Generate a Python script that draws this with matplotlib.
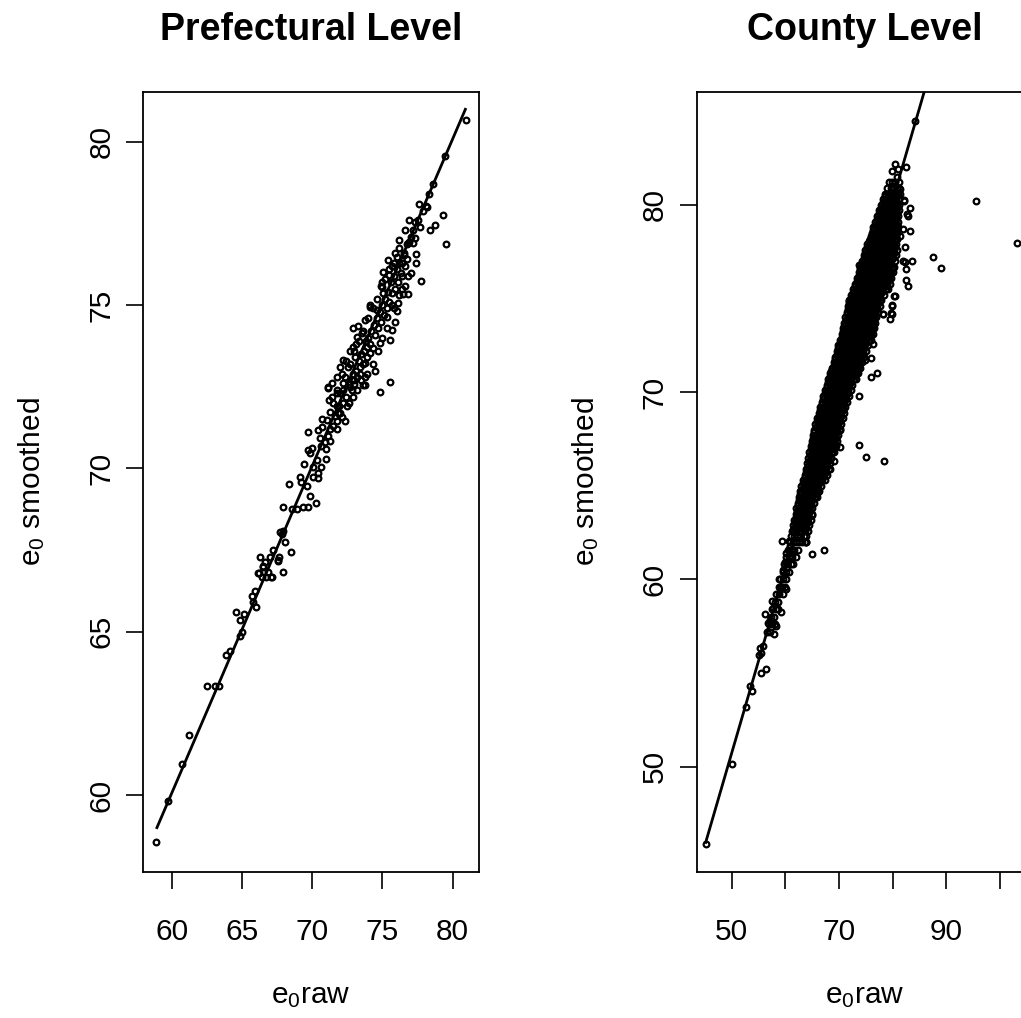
import matplotlib
matplotlib.use("Agg")
import matplotlib.pyplot as plt

plt.rcParams['font.family'] = ['Liberation Sans', 'DejaVu Sans']
plt.rcParams['mathtext.fontset'] = 'custom'
plt.rcParams['mathtext.rm'] = 'Liberation Sans'
plt.rcParams['mathtext.it'] = 'Liberation Sans:italic'

# ---------------- Prefectural level (raw, smoothed) ----------------
pref_points = [
    (58.88, 58.56), (59.74, 59.83), (60.71, 60.95), (61.25, 61.85), (62.49, 63.34),
    (63.08, 63.34), (63.37, 63.34), (63.87, 64.29), (64.15, 64.42), (64.86, 64.87),
    (65.03, 65.0), (64.58, 65.6), (64.86, 65.36), (65.17, 65.55), (65.7, 66.08),
    (65.95, 66.26), (66.0, 65.77), (65.81, 65.92), (66.22, 66.8), (66.52, 67.02),
    (66.72, 66.69), (67.05, 66.67), (67.9, 66.84), (67.59, 67.17), (68.5, 67.44),
    (68.07, 67.74), (67.83, 68.0), (67.71, 68.05), (67.95, 68.07), (67.24, 67.5),
    (67.0, 67.3), (67.66, 67.3), (67.59, 67.2), (66.29, 67.3), (66.65, 67.15),
    (66.53, 66.99), (66.17, 66.79), (66.88, 66.84), (67.12, 66.69), (66.41, 66.69),
    (67.95, 68.83), (68.55, 68.75), (68.9, 68.75), (69.37, 68.83), (69.73, 68.83),
    (70.28, 68.94), (68.33, 69.53), (69.14, 69.73), (69.19, 69.6), (69.66, 69.47),
    (69.85, 69.17), (69.42, 70.14), (70.08, 69.75), (70.44, 69.7), (70.44, 69.86),
    (70.08, 70.04), (70.33, 70.26), (70.61, 70.06), (70.99, 70.3), (69.85, 70.47),
    (69.73, 70.57), (69.97, 70.62), (69.73, 71.13), (70.44, 71.18), (70.56, 70.93),
    (71.27, 70.85), (70.68, 71.28), (71.04, 71.49), (70.68, 71.51), (71.8, 71.2),
    (71.75, 71.44), (72.11, 71.59), (72.34, 71.44), (71.27, 71.74), (71.87, 71.69),
    (71.2, 72.1), (71.51, 72.0), (71.75, 71.9), (71.15, 72.46), (71.4, 72.61),
    (71.75, 72.31), (72.22, 72.41), (72.7, 72.51), (73.18, 72.41), (73.77, 72.56),
    (74.84, 72.33), (75.55, 72.66),
    (80.96, 80.68), (79.42, 79.56), (78.59, 78.72), (78.11, 78.05), (78.2, 78.02),
    (79.3, 77.76), (78.75, 77.46), (78.35, 77.31), (79.54, 76.87), (77.33, 77.55),
    (76.92, 76.95), (77.16, 76.9), (77.33, 77.06), (76.74, 76.88), (77.38, 76.57),
    (76.21, 76.75), (76.03, 76.49), (76.5, 76.54), (76.38, 76.29), (75.79, 76.29),
    (76.74, 76.41), (75.07, 76.03), (75.43, 75.93), (75.67, 76.19), (76.38, 75.88),
    (76.85, 75.88), (77.73, 75.75), (76.38, 75.49), (76.45, 75.35), (76.81, 75.34),
    (74.96, 75.57), (75.07, 75.37), (75.67, 75.37), (76.14, 75.06), (74.12, 74.96),
    (74.6, 74.86), (76.03, 74.81), (75.31, 74.65), (75.9, 74.5), (75.67, 74.25),
    (75.55, 73.94), (74.84, 73.84), (72.89, 74.3), (73.29, 74.35), (73.77, 74.55),
    (73.18, 74.04), (73.53, 74.14), (72.89, 73.71), (73.89, 73.73), (74.12, 73.53),
    (73.77, 73.22), (73.41, 73.12), (73.06, 73.42), (72.22, 73.32), (71.99, 73.12),
    (72.58, 73.12), (73.77, 72.81), (73.65, 72.56), (72.94, 72.71), (72.22, 72.61),
    (71.75, 72.81), (71.15, 72.51), (71.4, 72.2), (71.99, 72.31), (72.82, 72.41),
    (70.6, 70.7), (70.9, 70.8), (71.1, 71.0), (71.3, 71.2), (71.0, 70.6),
    (71.5, 71.3), (71.6, 71.6), (71.9, 71.9), (72.0, 71.7), (72.2, 72.0),
    (72.4, 72.2), (72.5, 71.9), (72.6, 72.6), (72.8, 72.7), (72.9, 72.9),
    (73.0, 72.6), (73.1, 73.0), (73.2, 72.8), (73.3, 73.3), (73.4, 72.9),
    (73.5, 73.5), (73.6, 73.2), (73.7, 73.6), (73.8, 73.9), (73.9, 73.4),
    (74.0, 74.0), (74.1, 73.8), (74.2, 74.2), (74.3, 73.7), (74.4, 74.4),
    (74.5, 74.1), (74.6, 74.6), (74.7, 74.3), (74.8, 74.8), (74.9, 74.5),
    (75.0, 75.0), (75.1, 74.7), (75.2, 75.2), (75.3, 74.9), (75.4, 75.4),
    (75.5, 75.1), (75.6, 75.7), (75.7, 75.0), (75.8, 75.9), (75.9, 75.5),
    (76.0, 76.1), (76.1, 75.7), (76.2, 76.3), (76.3, 76.0), (76.5, 76.6),
    (76.6, 76.2), (76.8, 76.9), (77.0, 77.1), (77.2, 77.3), (77.5, 77.6),
    (77.7, 77.4), (77.9, 77.9), (78.3, 78.4),
    (72.3, 72.8), (72.7, 73.2), (73.0, 73.6), (73.3, 73.9), (73.6, 74.2),
    (74.0, 74.6), (74.3, 74.9), (74.6, 75.2), (74.9, 75.6), (75.2, 75.8),
    (75.5, 76.1), (75.9, 76.6), (76.2, 77.0), (76.6, 77.3),
    (73.9, 72.9), (74.3, 73.2), (74.7, 73.6), (75.0, 74.0), (75.3, 74.3),
    (75.8, 74.9), (76.2, 75.3), (76.6, 75.6), (77.0, 76.0), (77.4, 76.3),
    (74.5, 73.0), (72.6, 72.0), (72.9, 72.2), (73.5, 72.7),
    (71.8, 72.4), (72.1, 72.9), (72.4, 73.3), (72.7, 73.6), (73.1, 73.8),
    (74.1, 75.0), (75.0, 75.7), (75.4, 76.4), (76.9, 77.6), (77.6, 78.1),
]
pref_fit_raw = [58.95, 80.9]
pref_fit_smooth = [59.0, 81.0]

# ---------------- County level (raw, smoothed) ----------------
county_sparse = [
    (45.28, 45.9), (50.06, 50.14), (52.61, 53.17), (53.36, 54.34), (53.79, 54.02),
    (55.1, 55.97), (55.54, 55.0), (56.34, 55.23), (55.35, 56.33), (55.84, 56.45),
    (55.54, 56.06), (56.16, 58.14), (57.59, 58.87), (57.71, 58.46), (59.14, 58.28),
    (56.77, 57.66), (57.41, 57.48), (58.21, 57.52), (57.84, 57.09), (57.09, 57.84),
    (58.77, 60.0), (59.09, 59.56), (60.07, 59.49), (59.57, 60.5), (60.32, 60.68),
    (60.02, 60.94), (60.2, 61.39), (60.82, 61.74), (59.46, 62.06), (60.69, 62.06),
    (63.81, 62.01), (65.06, 61.35), (67.16, 61.56), (61.44, 62.63), (62.07, 62.98),
    (60.95, 61.78),
    (70.15, 67.07), (69.03, 66.32), (68.28, 65.92), (70.15, 68.05), (66.1, 64.67),
    (65.06, 63.43), (63.94, 62.01), (73.69, 67.2), (75.12, 66.54), (78.36, 66.32),
    (76.36, 72.58), (75.88, 71.83), (74.81, 71.72), (77.0, 71.01), (75.88, 70.8),
    (73.69, 69.77), (79.79, 74.62), (79.79, 74.18), (79.48, 73.91), (78.23, 74.18),
    (95.46, 80.23), (103.1, 77.94), (87.44, 77.23), (88.93, 76.61), (82.46, 82.02),
    (83.21, 79.82), (83.21, 78.58), (83.53, 77.02), (82.09, 80.21), (82.89, 79.41),
    (82.59, 79.5), (81.96, 78.71), (82.28, 77.73), (82.46, 76.57), (82.46, 75.99),
    (82.78, 75.68), (80.28, 75.15), (81.34, 78.35), (81.96, 77.02), (84.14, 84.48),
    (80.84, 81.49), (81.34, 80.84), (79.79, 80.96), (79.16, 80.34), (79.98, 80.57),
    (82.09, 80.25), (77.93, 79.72), (78.86, 79.86), (82.34, 76.93), (80.41, 75.15),
    (79.79, 74.67), (79.6, 74.21), (78.11, 74.18), (76.06, 77.67), (73.77, 76.8),
    (71.9, 74.85), (76.42, 78.44), (76.49, 78.26), (79.9, 81.8), (80.5, 82.2),
    (81.0, 81.9),
]

# dense core: smoothed value of each band, and raw values in that band
county_core_smooth = [
    57.2, 57.6, 58.0, 58.4, 58.8, 59.2, 59.6, 60.0, 60.4, 60.8, 61.2, 61.6,
    62.0, 62.3, 62.6, 62.9, 63.2, 63.5, 63.8, 64.1, 64.4, 64.7, 65.0, 65.3,
    65.6, 65.9, 66.2, 66.5, 66.8, 67.1, 67.4, 67.7, 68.0, 68.3, 68.6, 68.9,
    69.2, 69.5, 69.8, 70.1, 70.4, 70.7, 71.0, 71.3, 71.6, 71.9, 72.2, 72.5,
    72.8, 73.1, 73.4, 73.7, 74.0, 74.3, 74.6, 74.9, 75.2, 75.5, 75.8, 76.1,
    76.4, 76.7, 77.0, 77.3, 77.6, 77.9, 78.2, 78.5, 78.8, 79.1, 79.4, 79.7,
    80.0, 80.3, 80.6, 80.9, 81.2,
]
county_core_raw = [
    [56.6, 57.2], [56.9, 57.5, 58.0], [57.3, 57.9], [57.6, 58.2, 58.7],
    [58.0, 58.6], [58.3, 58.9, 59.5], [58.8, 59.4, 59.9], [59.0, 59.6, 60.2],
    [59.5, 60.1, 60.6], [59.8, 60.4, 61.0, 61.5], [60.1, 60.7, 61.3, 61.9],
    [60.5, 61.1, 61.7, 62.3],
    [60.8, 61.4, 62.0, 62.6, 63.1, 63.6],
    [61.0, 61.6, 62.2, 62.8, 63.4, 63.9],
    [61.3, 61.9, 62.5, 63.0, 63.6, 64.2],
    [61.5, 62.1, 62.7, 63.3, 63.9, 64.4],
    [61.7, 62.3, 62.9, 63.5, 64.1, 64.7],
    [61.9, 62.5, 63.1, 63.7, 64.3, 64.9],
    [62.0, 62.6, 63.2, 63.8, 64.4, 65.0],
    [62.3, 62.9, 63.5, 64.1, 64.7, 65.3],
    [62.5, 63.1, 63.7, 64.3, 64.9, 65.5, 65.9],
    [62.8, 63.4, 64.0, 64.6, 65.2, 65.8, 66.3],
    [63.0, 63.6, 64.2, 64.8, 65.4, 66.0, 66.7],
    [63.3, 63.9, 64.5, 65.1, 65.7, 66.3, 66.9, 67.3],
    [63.6, 64.2, 64.8, 65.4, 66.0, 66.6, 67.2, 67.7],
    [63.9, 64.5, 65.1, 65.7, 66.3, 66.9, 67.5, 68.1],
    [64.1, 64.7, 65.3, 65.9, 66.5, 67.1, 67.7, 68.4],
    [64.3, 64.9, 65.5, 66.1, 66.7, 67.3, 67.9, 68.6],
    [64.5, 65.1, 65.7, 66.3, 66.9, 67.5, 68.1, 68.7, 69.1],
    [64.7, 65.3, 65.9, 66.5, 67.1, 67.7, 68.3, 68.9, 69.4],
    [64.9, 65.5, 66.1, 66.7, 67.3, 67.9, 68.5, 69.1, 69.7],
    [65.1, 65.7, 66.3, 66.9, 67.5, 68.1, 68.7, 69.3, 69.9],
    [65.4, 66.0, 66.6, 67.2, 67.8, 68.4, 69.0, 69.6, 70.2],
    [65.6, 66.2, 66.8, 67.4, 68.0, 68.6, 69.2, 69.8, 70.4],
    [65.9, 66.5, 67.1, 67.7, 68.3, 68.9, 69.5, 70.1, 70.7],
    [66.2, 66.8, 67.4, 68.0, 68.6, 69.2, 69.8, 70.4, 70.9],
    [66.5, 67.1, 67.7, 68.3, 68.9, 69.5, 70.1, 70.7, 71.2],
    [66.8, 67.4, 68.0, 68.6, 69.2, 69.8, 70.4, 71.0, 71.5],
    [67.1, 67.7, 68.3, 68.9, 69.5, 70.1, 70.7, 71.3, 71.8],
    [67.4, 68.0, 68.6, 69.2, 69.8, 70.4, 71.0, 71.6, 72.2],
    [67.7, 68.3, 68.9, 69.5, 70.1, 70.7, 71.3, 71.9, 72.5],
    [68.0, 68.6, 69.2, 69.8, 70.4, 71.0, 71.6, 72.2, 72.8, 73.1],
    [68.3, 68.9, 69.5, 70.1, 70.7, 71.3, 71.9, 72.5, 73.1, 73.5],
    [68.7, 69.3, 69.9, 70.5, 71.1, 71.7, 72.3, 72.9, 73.5, 73.9],
    [69.0, 69.6, 70.2, 70.8, 71.4, 72.0, 72.6, 73.2, 73.8, 74.3],
    [69.3, 69.9, 70.5, 71.1, 71.7, 72.3, 72.9, 73.5, 74.1, 74.7],
    [69.6, 70.2, 70.8, 71.4, 72.0, 72.6, 73.2, 73.8, 74.4, 75.1],
    [69.9, 70.5, 71.1, 71.7, 72.3, 72.9, 73.5, 74.1, 74.7, 75.4],
    [70.2, 70.8, 71.4, 72.0, 72.6, 73.2, 73.8, 74.4, 75.0, 75.6, 76.0],
    [70.5, 71.1, 71.7, 72.3, 72.9, 73.5, 74.1, 74.7, 75.3, 75.9, 76.3],
    [70.7, 71.3, 71.9, 72.5, 73.1, 73.7, 74.3, 74.9, 75.5, 76.1, 76.5],
    [71.0, 71.6, 72.2, 72.8, 73.4, 74.0, 74.6, 75.2, 75.8, 76.4, 76.7],
    [71.2, 71.8, 72.4, 73.0, 73.6, 74.2, 74.8, 75.4, 76.0, 76.5, 76.9],
    [71.4, 72.0, 72.6, 73.2, 73.8, 74.4, 75.0, 75.6, 76.2, 76.8, 77.3],
    [71.6, 72.2, 72.8, 73.4, 74.0, 74.6, 75.2, 75.8, 76.4, 77.0, 77.6],
    [71.9, 72.5, 73.1, 73.7, 74.3, 74.9, 75.5, 76.1, 76.7, 77.3, 77.9],
    [72.3, 72.9, 73.5, 74.1, 74.7, 75.3, 75.9, 76.5, 77.1, 77.7, 78.3],
    [72.7, 73.3, 73.9, 74.5, 75.1, 75.7, 76.3, 76.9, 77.5, 78.1, 78.7, 79.1],
    [73.0, 73.6, 74.2, 74.8, 75.4, 76.0, 76.6, 77.2, 77.8, 78.4, 79.0, 79.5],
    [73.4, 74.0, 74.6, 75.2, 75.8, 76.4, 77.0, 77.6, 78.2, 78.8, 79.4, 79.7],
    [73.7, 74.3, 74.9, 75.5, 76.1, 76.7, 77.3, 77.9, 78.5, 79.1, 79.7, 80.0],
    [74.0, 74.6, 75.2, 75.8, 76.4, 77.0, 77.6, 78.2, 78.8, 79.4, 80.0, 80.2],
    [74.3, 74.9, 75.5, 76.1, 76.7, 77.3, 77.9, 78.5, 79.1, 79.7, 80.4],
    [74.6, 75.2, 75.8, 76.4, 77.0, 77.6, 78.2, 78.8, 79.4, 80.0, 80.6],
    [74.9, 75.5, 76.1, 76.7, 77.3, 77.9, 78.5, 79.1, 79.7, 80.3, 80.8],
    [75.3, 75.9, 76.5, 77.1, 77.7, 78.3, 78.9, 79.5, 80.1, 80.7],
    [75.7, 76.3, 76.9, 77.5, 78.1, 78.7, 79.3, 79.9, 80.5, 80.9],
    [76.1, 76.7, 77.3, 77.9, 78.5, 79.1, 79.7, 80.3, 80.9],
    [76.4, 77.0, 77.6, 78.2, 78.8, 79.4, 80.0, 80.6, 81.0],
    [76.8, 77.4, 78.0, 78.6, 79.2, 79.8, 80.4, 81.0],
    [77.1, 77.7, 78.3, 78.9, 79.5, 80.1, 80.7, 81.0],
    [77.5, 78.1, 78.7, 79.3, 79.9, 80.5, 81.1],
    [77.9, 78.5, 79.1, 79.7, 80.3, 80.9, 81.2],
    [78.2, 78.8, 79.4, 80.0, 80.6, 81.2],
    [78.6, 79.2, 79.8, 80.4, 81.0, 81.3],
    [79.0, 79.6, 80.2, 80.8, 81.2],
    [79.3, 79.9, 80.5, 81.1],
]

# second set of bands lying between the first (the core is solid black)
county_core2_smooth = [
    62.75, 63.05, 63.35, 63.65, 63.95, 64.25, 64.55, 64.85, 65.15, 65.45,
    65.75, 66.05, 66.35, 66.65, 66.95, 67.25, 67.55, 67.85, 68.15, 68.45,
    68.75, 69.05, 69.35, 69.65, 69.95, 70.25, 70.55, 70.85, 71.15, 71.45,
    71.75, 72.05, 72.35, 72.65, 72.95, 73.25, 73.55, 73.85, 74.15, 74.45,
    74.75, 75.05, 75.35, 75.65, 75.95, 76.25, 76.55, 76.85, 77.15, 77.45,
    77.75, 78.05, 78.35, 78.65, 78.95, 79.25, 79.55, 79.85, 80.15, 80.45,
]
county_core2_raw = [
    [61.6, 62.2, 62.8, 63.3, 63.9],
    [61.8, 62.4, 63.0, 63.6, 64.2],
    [62.0, 62.6, 63.2, 63.8, 64.4],
    [62.2, 62.8, 63.4, 64.0, 64.6],
    [62.3, 62.9, 63.5, 64.1, 64.7],
    [62.6, 63.2, 63.8, 64.4, 65.0],
    [62.8, 63.4, 64.0, 64.6, 65.2, 65.7],
    [63.1, 63.7, 64.3, 64.9, 65.5, 66.1],
    [63.3, 63.9, 64.5, 65.1, 65.7, 66.3],
    [63.6, 64.2, 64.8, 65.4, 66.0, 66.6, 67.1],
    [63.9, 64.5, 65.1, 65.7, 66.3, 66.9, 67.5],
    [64.2, 64.8, 65.4, 66.0, 66.6, 67.2, 67.8],
    [64.4, 65.0, 65.6, 66.2, 66.8, 67.4, 68.0],
    [64.6, 65.2, 65.8, 66.4, 67.0, 67.6, 68.2],
    [64.8, 65.4, 66.0, 66.6, 67.2, 67.8, 68.4, 69.0],
    [65.0, 65.6, 66.2, 66.8, 67.4, 68.0, 68.6, 69.2],
    [65.2, 65.8, 66.4, 67.0, 67.6, 68.2, 68.8, 69.4],
    [65.4, 66.0, 66.6, 67.2, 67.8, 68.4, 69.0, 69.6],
    [65.7, 66.3, 66.9, 67.5, 68.1, 68.7, 69.3, 69.9],
    [65.9, 66.5, 67.1, 67.7, 68.3, 68.9, 69.5, 70.1],
    [66.2, 66.8, 67.4, 68.0, 68.6, 69.2, 69.8, 70.4],
    [66.5, 67.1, 67.7, 68.3, 68.9, 69.5, 70.1, 70.7],
    [66.8, 67.4, 68.0, 68.6, 69.2, 69.8, 70.4, 71.0],
    [67.1, 67.7, 68.3, 68.9, 69.5, 70.1, 70.7, 71.3],
    [67.4, 68.0, 68.6, 69.2, 69.8, 70.4, 71.0, 71.6],
    [67.7, 68.3, 68.9, 69.5, 70.1, 70.7, 71.3, 71.9],
    [68.0, 68.6, 69.2, 69.8, 70.4, 71.0, 71.6, 72.2],
    [68.3, 68.9, 69.5, 70.1, 70.7, 71.3, 71.9, 72.5, 73.0],
    [68.6, 69.2, 69.8, 70.4, 71.0, 71.6, 72.2, 72.8, 73.3],
    [69.0, 69.6, 70.2, 70.8, 71.4, 72.0, 72.6, 73.2, 73.7],
    [69.3, 69.9, 70.5, 71.1, 71.7, 72.3, 72.9, 73.5, 74.0],
    [69.6, 70.2, 70.8, 71.4, 72.0, 72.6, 73.2, 73.8, 74.4],
    [69.9, 70.5, 71.1, 71.7, 72.3, 72.9, 73.5, 74.1, 74.7],
    [70.2, 70.8, 71.4, 72.0, 72.6, 73.2, 73.8, 74.4, 75.0],
    [70.5, 71.1, 71.7, 72.3, 72.9, 73.5, 74.1, 74.7, 75.3, 75.8],
    [70.8, 71.4, 72.0, 72.6, 73.2, 73.8, 74.4, 75.0, 75.6, 76.1],
    [71.0, 71.6, 72.2, 72.8, 73.4, 74.0, 74.6, 75.2, 75.8, 76.3],
    [71.3, 71.9, 72.5, 73.1, 73.7, 74.3, 74.9, 75.5, 76.1, 76.6],
    [71.5, 72.1, 72.7, 73.3, 73.9, 74.5, 75.1, 75.7, 76.3, 76.8],
    [71.7, 72.3, 72.9, 73.5, 74.1, 74.7, 75.3, 75.9, 76.5, 77.1],
    [71.9, 72.5, 73.1, 73.7, 74.3, 74.9, 75.5, 76.1, 76.7, 77.3],
    [72.2, 72.8, 73.4, 74.0, 74.6, 75.2, 75.8, 76.4, 77.0, 77.6],
    [72.6, 73.2, 73.8, 74.4, 75.0, 75.6, 76.2, 76.8, 77.4, 78.0],
    [73.0, 73.6, 74.2, 74.8, 75.4, 76.0, 76.6, 77.2, 77.8, 78.4, 78.9],
    [73.3, 73.9, 74.5, 75.1, 75.7, 76.3, 76.9, 77.5, 78.1, 78.7, 79.2],
    [73.7, 74.3, 74.9, 75.5, 76.1, 76.7, 77.3, 77.9, 78.5, 79.1, 79.5],
    [74.0, 74.6, 75.2, 75.8, 76.4, 77.0, 77.6, 78.2, 78.8, 79.4, 79.8],
    [74.3, 74.9, 75.5, 76.1, 76.7, 77.3, 77.9, 78.5, 79.1, 79.7],
    [74.6, 75.2, 75.8, 76.4, 77.0, 77.6, 78.2, 78.8, 79.4, 80.0],
    [74.9, 75.5, 76.1, 76.7, 77.3, 77.9, 78.5, 79.1, 79.7, 80.3],
    [75.2, 75.8, 76.4, 77.0, 77.6, 78.2, 78.8, 79.4, 80.0, 80.5],
    [75.6, 76.2, 76.8, 77.4, 78.0, 78.6, 79.2, 79.8, 80.4],
    [76.0, 76.6, 77.2, 77.8, 78.4, 79.0, 79.6, 80.2, 80.7],
    [76.4, 77.0, 77.6, 78.2, 78.8, 79.4, 80.0, 80.6],
    [76.7, 77.3, 77.9, 78.5, 79.1, 79.7, 80.3, 80.8],
    [77.1, 77.7, 78.3, 78.9, 79.5, 80.1, 80.7],
    [77.4, 78.0, 78.6, 79.2, 79.8, 80.4, 80.9],
    [77.8, 78.4, 79.0, 79.6, 80.2, 80.8],
    [78.2, 78.8, 79.4, 80.0, 80.6],
    [78.5, 79.1, 79.7, 80.3, 80.9],
]
county_fit_raw = [45.15, 103.1]
county_fit_smooth = [45.96, 102.98]

pref_ticks_x = [60, 65, 70, 75, 80]
pref_ticks_y = [60, 65, 70, 75, 80]
county_ticks_x = [50, 60, 70, 80, 90, 100]
county_ticklabels_x = ['50', '', '70', '', '90', '']
county_ticks_y = [50, 60, 70, 80]

# ---------------- assemble ----------------
pref_raw = [p[0] for p in pref_points]
pref_smooth = [p[1] for p in pref_points]
county_raw = [p[0] for p in county_sparse]
county_smooth = [p[1] for p in county_sparse]
for bands_y, bands_x in ((county_core_smooth, county_core_raw),
                         (county_core2_smooth, county_core2_raw)):
    for yv, xs in zip(bands_y, bands_x):
        for xv in xs:
            county_raw.append(xv)
            county_smooth.append(yv)

W, H = 1021, 1018
fig = plt.figure(figsize=(W / 100, H / 100), dpi=100)
axw = 335.7 / W
axh = 780.0 / H
ax1 = fig.add_axes([143.3 / W, 1 - 871.7 / H, axw, axh])
ax2 = fig.add_axes([696.7 / W, 1 - 871.7 / H, axw, axh])

FS = 21.5
mk = dict(linestyle='none', marker='o', mfc='none', mec='black', ms=4.1, mew=1.6)

def style(ax, title, xt, xtl, yt):
    for s in ax.spines.values():
        s.set_linewidth(1.3)
    ax.set_xticks(xt)
    ax.set_xticklabels(xtl)
    ax.set_yticks(yt)
    ax.set_yticklabels([str(v) for v in yt])
    ax.tick_params(direction='out', length=12, width=1.2, labelsize=FS)
    ax.tick_params(axis='x', pad=21)
    ax.tick_params(axis='y', pad=8, labelrotation=90)
    for lab in ax.get_yticklabels():
        lab.set_va('center')
    ax.set_title(title, fontsize=27, fontweight='bold', pad=37)
    ax.set_xlabel(r'e$_{\mathregular{0}}$raw', fontsize=FS, labelpad=26)
    ax.set_ylabel(r'e$_{\mathregular{0}}$ smoothed', fontsize=FS, labelpad=29)

ax1.plot(pref_raw, pref_smooth, **mk)
ax1.plot(pref_fit_raw, pref_fit_smooth, color='black', lw=2.0)
ax1.set_xlim(57.98, 81.87)
ax1.set_ylim(57.65, 81.54)
style(ax1, 'Prefectural Level', pref_ticks_x, [str(v) for v in pref_ticks_x], pref_ticks_y)

ax2.plot(county_raw, county_smooth, **mk)
ax2.plot(county_fit_raw, county_fit_smooth, color='black', lw=2.0)
ax2.set_xlim(43.48, 106.04)
ax2.set_ylim(44.4, 86.04)
style(ax2, 'County Level', county_ticks_x, county_ticklabels_x, county_ticks_y)

fig.savefig('out.png', dpi=100)
